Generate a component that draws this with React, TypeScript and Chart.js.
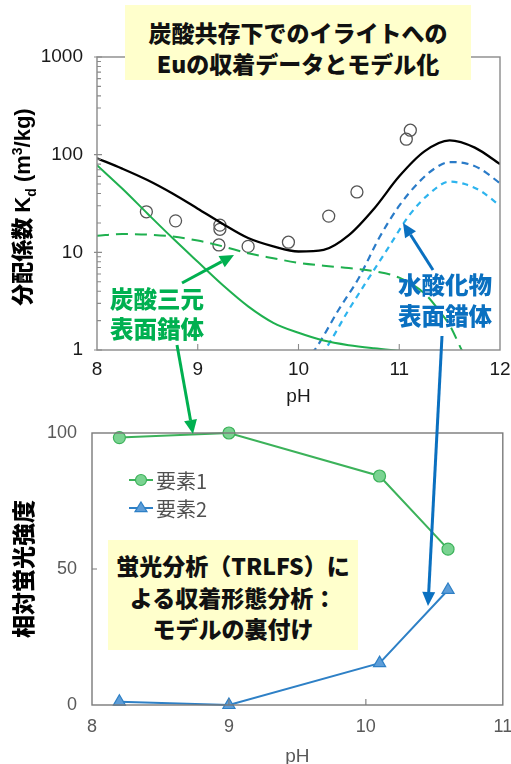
import React, { useEffect, useRef } from "react";
import { Chart, registerables } from "chart.js";
Chart.register(...registerables);

// ---------- Upper chart: Kd vs pH ----------
const modelPH = [8, 8.25, 8.5, 8.75, 9, 9.25, 9.5, 9.75, 10, 10.25, 10.5, 10.75, 11, 11.25, 11.5, 11.75, 12];
const totalKd = [92, 72, 55, 40, 28, 19.5, 14, 11.5, 10.2, 10.6, 15, 28, 60, 108, 140, 118, 80];
const carbSolidPH = [8, 8.25, 8.5, 8.75, 9, 9.25, 9.5, 9.75, 10, 10.25, 10.5, 10.75, 11];
const carbSolidKd = [78, 45, 25, 14, 8, 4.6, 2.8, 1.9, 1.5, 1.25, 1.12, 1.04, 0.98];
const carbDashPH = [8, 8.25, 8.5, 8.75, 9, 9.25, 9.5, 9.75, 10, 10.25, 10.5, 10.75, 11, 11.25, 11.4, 11.5, 11.62, 11.7];
const carbDashKd = [14.8, 15.4, 15.2, 14.5, 13.2, 11.5, 9.8, 8.7, 7.8, 7.3, 6.9, 6.4, 5.5, 3.8, 2.5, 1.8, 1.0, 0.7];
const hydrDarkPH = [10.05, 10.16, 10.4, 10.6, 10.8, 11, 11.2, 11.35, 11.5, 11.65, 11.8, 12];
const hydrDarkKd = [0.75, 1, 2.6, 5.5, 14, 30, 53, 72, 84, 82, 72, 51];
const hydrLightPH = [10.15, 10.26, 10.5, 10.7, 10.9, 11.1, 11.3, 11.5, 11.65, 11.8, 12];
const hydrLightKd = [0.75, 1, 2.6, 5.5, 11.5, 24, 40, 53, 50, 43, 30];
const obsPH = [8.49, 8.78, 9.22, 9.22, 9.21, 9.5, 9.9, 10.3, 10.58, 11.07, 11.11];
const obsKd = [26, 21, 19, 17.2, 11.9, 11.5, 12.7, 23.5, 41.5, 144, 178];
const topXTicks = [8, 9, 10, 11, 12];
const topYTicks = [1, 10, 100, 1000];
const topYMinor = [2, 3, 4, 5, 6, 7, 8, 9, 20, 30, 40, 50, 60, 70, 80, 90, 200, 300, 400, 500, 600, 700, 800, 900];

// ---------- Lower chart: relative fluorescence ----------
const trlfsPH = [8.2, 9.0, 10.1, 10.6];
const element1 = [98.3, 100, 84.2, 57.3];
const element2 = [1.2, 0, 15.4, 42.3];
const seriesLabels = ["要素1", "要素2"];
const botXTicks = [8, 9, 10, 11];
const botYTicks = [0, 50, 100];

const LATIN = '"Liberation Sans", Arial, sans-serif';
const CJK = '"Noto Sans CJK JP", "Liberation Sans", sans-serif';

const zip = (xs: number[], ys: number[]) => xs.map((x, i) => ({ x, y: ys[i] }));

const noPadX = (h: number) => (s: any) => {
  s.height = h;
  s.paddingLeft = 0;
  s.paddingRight = 0;
};
const noPadY = (w: number) => (s: any) => {
  s.width = w;
  s.paddingTop = 0;
  s.paddingBottom = 0;
};

function framePlugin(o: any) {
  return {
    id: "frameTicks",
    afterDraw(chart: any) {
      const { ctx, chartArea, scales } = chart;
      const { left, right, top, bottom } = chartArea;
      ctx.save();
      ctx.strokeStyle = o.color;
      ctx.lineWidth = 1.4;
      ctx.strokeRect(left, top, right - left, bottom - top);
      ctx.lineWidth = 1.1;
      ctx.beginPath();
      (o.xTicks || []).forEach((v: number) => {
        const px = scales.x.getPixelForValue(v);
        ctx.moveTo(px, bottom);
        ctx.lineTo(px, bottom - o.xLen);
      });
      (o.yMajor || []).forEach((v: number) => {
        const py = scales.y.getPixelForValue(v);
        ctx.moveTo(left - o.yOut, py);
        ctx.lineTo(left + o.yLen, py);
      });
      (o.yMinor || []).forEach((v: number) => {
        const py = scales.y.getPixelForValue(v);
        ctx.moveTo(left, py);
        ctx.lineTo(left + o.yMinLen, py);
      });
      ctx.stroke();
      ctx.restore();
    },
  };
}

const legendPlugin = {
  id: "innerLegend",
  afterDraw(chart: any) {
    const { ctx, chartArea } = chart;
    ctx.save();
    chart.data.datasets.forEach((ds: any, i: number) => {
      const y = chartArea.top + 47 + i * 28;
      const x0 = chartArea.left + 37;
      ctx.strokeStyle = ds.borderColor;
      ctx.lineWidth = 2;
      ctx.beginPath();
      ctx.moveTo(x0, y);
      ctx.lineTo(x0 + 24, y);
      ctx.stroke();
      ctx.fillStyle = ds.pointBackgroundColor;
      ctx.strokeStyle = ds.pointBorderColor;
      ctx.lineWidth = 1.2;
      ctx.beginPath();
      if (ds.pointStyle === "triangle") {
        const r = 6;
        ctx.moveTo(x0 + 12, y - r);
        ctx.lineTo(x0 + 12 + r, y + r * 0.6);
        ctx.lineTo(x0 + 12 - r, y + r * 0.6);
        ctx.closePath();
      } else {
        ctx.arc(x0 + 12, y, 5.5, 0, Math.PI * 2);
      }
      ctx.fill();
      ctx.stroke();
      ctx.fillStyle = "#505050";
      ctx.font = `20px ${CJK}`;
      ctx.textBaseline = "middle";
      ctx.textAlign = "left";
      ctx.fillText(ds.label, x0 + 27, y + 1);
    });
    ctx.restore();
  },
};

function Arrow({ x1, y1, x2, y2, color }: any) {
  const ang = Math.atan2(y2 - y1, x2 - x1);
  const L = 14;
  const W = 6.5;
  const bx = x2 - L * Math.cos(ang);
  const by = y2 - L * Math.sin(ang);
  const px = -Math.sin(ang) * W;
  const py = Math.cos(ang) * W;
  return (
    <g>
      <line x1={x1} y1={y1} x2={bx} y2={by} stroke={color} strokeWidth={3} />
      <polygon points={`${x2},${y2} ${bx + px},${by + py} ${bx - px},${by - py}`} fill={color} />
    </g>
  );
}

export default function App() {
  const topRef = useRef<HTMLCanvasElement>(null);
  const botRef = useRef<HTMLCanvasElement>(null);

  useEffect(() => {
    const lineBase = { showLine: true, pointRadius: 0, fill: false, cubicInterpolationMode: "monotone" };
    const top = new Chart(topRef.current as HTMLCanvasElement, {
      type: "scatter",
      data: {
        datasets: [
          { ...lineBase, label: "total", data: zip(modelPH, totalKd), borderColor: "#000000", borderWidth: 2.3 },
          { ...lineBase, label: "carb1", data: zip(carbSolidPH, carbSolidKd), borderColor: "#1FB04F", borderWidth: 2 },
          { ...lineBase, label: "carb2", data: zip(carbDashPH, carbDashKd), borderColor: "#1FB04F", borderWidth: 2, borderDash: [12, 7] },
          { ...lineBase, label: "hyd1", data: zip(hydrDarkPH, hydrDarkKd), borderColor: "#2A7BC8", borderWidth: 2.2, borderDash: [7, 5] },
          { ...lineBase, label: "hyd2", data: zip(hydrLightPH, hydrLightKd), borderColor: "#2DB4EE", borderWidth: 2.2, borderDash: [6, 5] },
          {
            label: "obs",
            data: zip(obsPH, obsKd),
            showLine: false,
            pointRadius: 6,
            pointBorderWidth: 1.3,
            pointBorderColor: "#555555",
            pointBackgroundColor: "rgba(0,0,0,0)",
          },
        ] as any,
      },
      options: {
        responsive: false,
        animation: false,
        layout: { padding: { top: 57, right: 11, left: 0, bottom: 0 } },
        plugins: { legend: { display: false }, tooltip: { enabled: false } },
        scales: {
          x: {
            type: "linear",
            min: 8,
            max: 12,
            afterBuildTicks: (s: any) => { s.ticks = topXTicks.map((v) => ({ value: v })); },
            afterFit: noPadX(70),
            grid: { display: false, drawTicks: false },
            border: { display: false },
            ticks: { padding: 8, color: "#1a1a1a", font: { family: LATIN, size: 19 }, maxRotation: 0, autoSkip: false },
            title: { display: true, text: "pH", color: "#1a1a1a", font: { family: LATIN, size: 19 }, padding: { top: 0, bottom: 12 } },
          },
          y: {
            type: "logarithmic",
            min: 1,
            max: 1000,
            afterBuildTicks: (s: any) => { s.ticks = topYTicks.map((v) => ({ value: v })); },
            afterFit: noPadY(97),
            grid: { display: false, drawTicks: false },
            border: { display: false },
            ticks: { padding: 14, color: "#1a1a1a", font: { family: LATIN, size: 19 }, callback: (v: any) => String(v) },
          },
        },
      } as any,
      plugins: [framePlugin({ color: "#8a8a8a", xTicks: [9, 10, 11], xLen: 6, yMajor: topYTicks, yOut: 3, yLen: 5, yMinor: topYMinor, yMinLen: 4 })],
    });

    const bot = new Chart(botRef.current as HTMLCanvasElement, {
      type: "line",
      data: {
        datasets: [
          {
            label: seriesLabels[0],
            data: zip(trlfsPH, element1),
            borderColor: "#3CB25A",
            borderWidth: 2,
            pointStyle: "circle",
            pointRadius: 6,
            pointBorderWidth: 1.2,
            pointBackgroundColor: "#7AD391",
            pointBorderColor: "#3CB25A",
            tension: 0,
          },
          {
            label: seriesLabels[1],
            data: zip(trlfsPH, element2),
            borderColor: "#2E80C6",
            borderWidth: 2,
            pointStyle: "triangle",
            pointRadius: 7,
            pointBorderWidth: 1.2,
            pointBackgroundColor: "#5D9DD8",
            pointBorderColor: "#2E80C6",
            tension: 0,
          },
        ] as any,
      },
      options: {
        responsive: false,
        animation: false,
        clip: false,
        layout: { padding: { top: 13, right: 8, left: 0, bottom: 0 } },
        plugins: { legend: { display: false }, tooltip: { enabled: false } },
        scales: {
          x: {
            type: "linear",
            min: 8,
            max: 11,
            afterBuildTicks: (s: any) => { s.ticks = botXTicks.map((v) => ({ value: v })); },
            afterFit: noPadX(59),
            grid: { display: false, drawTicks: false },
            border: { display: false },
            ticks: { padding: 11, color: "#595959", font: { family: LATIN, size: 18 }, maxRotation: 0, autoSkip: false },
            title: { display: true, text: "pH", color: "#595959", font: { family: LATIN, size: 19, lineHeight: 1 }, padding: { top: 0, bottom: -2 } },
          },
          y: {
            type: "linear",
            min: 0,
            max: 100,
            afterBuildTicks: (s: any) => { s.ticks = botYTicks.map((v) => ({ value: v })); },
            afterFit: noPadY(92),
            grid: { display: false, drawTicks: false },
            border: { display: false },
            ticks: { padding: 15, color: "#595959", font: { family: LATIN, size: 18 } },
          },
        },
      } as any,
      plugins: [framePlugin({ color: "#7a7a7a", xTicks: [9, 10], xLen: 6, yMajor: [50], yOut: 0, yLen: 5, yMinor: [], yMinLen: 0 }), legendPlugin],
    });

    return () => {
      top.destroy();
      bot.destroy();
    };
  }, []);

  const abs = (o: any) => ({ position: "absolute", ...o } as React.CSSProperties);

  return (
    <div style={abs({ left: 0, top: 0, width: 511, height: 764, overflow: "hidden", background: "#ffffff" })}>
      <canvas ref={topRef} width={511} height={420} style={abs({ left: 0, top: 0 })} />
      <canvas ref={botRef} width={511} height={344} style={abs({ left: 0, top: 420 })} />

      {/* y-axis titles */}
      <div
        style={abs({
          left: 24,
          top: 207,
          transform: "translate(-50%, -50%) rotate(-90deg)",
          whiteSpace: "nowrap",
          fontFamily: CJK,
          fontWeight: 900,
          fontSize: 22,
          color: "#000",
          lineHeight: "26px",
        })}
      >
        分配係数 <span style={{ fontFamily: LATIN, fontWeight: 700 }}>K<sub style={{ fontSize: 14 }}>d</sub> (m<sup style={{ fontSize: 14 }}>3</sup>/kg)</span>
      </div>
      <div
        style={abs({
          left: 22,
          top: 569,
          transform: "translate(-50%, -50%) rotate(-90deg)",
          whiteSpace: "nowrap",
          fontFamily: CJK,
          fontWeight: 900,
          fontSize: 23,
          color: "#000",
          lineHeight: "26px",
        })}
      >
        相対蛍光強度
      </div>

      {/* title box */}
      <div
        style={abs({
          left: 125,
          top: 5,
          width: 346,
          height: 75,
          background: "#FFFFCC",
          boxSizing: "border-box",
          paddingTop: 12,
          textAlign: "center",
          fontFamily: CJK,
          fontWeight: 900,
          fontSize: 23,
          lineHeight: "31px",
          color: "#111",
        })}
      >
        <div>炭酸共存下でのイライトへの</div>
        <div>Euの収着データとモデル化</div>
      </div>

      {/* lower note box */}
      <div
        style={abs({
          left: 108,
          top: 540,
          width: 250,
          height: 110,
          background: "#FFFFCC",
          boxSizing: "border-box",
          paddingTop: 10,
          textAlign: "center",
          fontFamily: CJK,
          fontWeight: 900,
          fontSize: 23,
          lineHeight: "31.5px",
          color: "#111",
          whiteSpace: "nowrap",
        })}
      >
        <div>蛍光分析（TRLFS）に</div>
        <div>よる収着形態分析：</div>
        <div>モデルの裏付け</div>
      </div>

      {/* annotation labels */}
      <div
        style={abs({
          left: 110,
          top: 283,
          fontFamily: CJK,
          fontWeight: 900,
          fontSize: 23.5,
          lineHeight: "30px",
          color: "#00B050",
          whiteSpace: "nowrap",
        })}
      >
        <div>炭酸三元</div>
        <div>表面錯体</div>
      </div>
      <div
        style={abs({
          left: 398,
          top: 269,
          fontFamily: CJK,
          fontWeight: 900,
          fontSize: 23.5,
          lineHeight: "31px",
          color: "#0A70C0",
          whiteSpace: "nowrap",
        })}
      >
        <div>水酸化物</div>
        <div>表面錯体</div>
      </div>

      <svg width={511} height={764} style={abs({ left: 0, top: 0, pointerEvents: "none" })}>
        <Arrow x1={182} y1={283} x2={234} y2={255} color="#00B050" />
        <Arrow x1={177} y1={345} x2={193} y2={434} color="#00B050" />
        <Arrow x1={433} y1={270} x2={403} y2={223} color="#0A70C0" />
        <Arrow x1={442} y1={336} x2={428} y2={606} color="#0A70C0" />
      </svg>
    </div>
  );
}
